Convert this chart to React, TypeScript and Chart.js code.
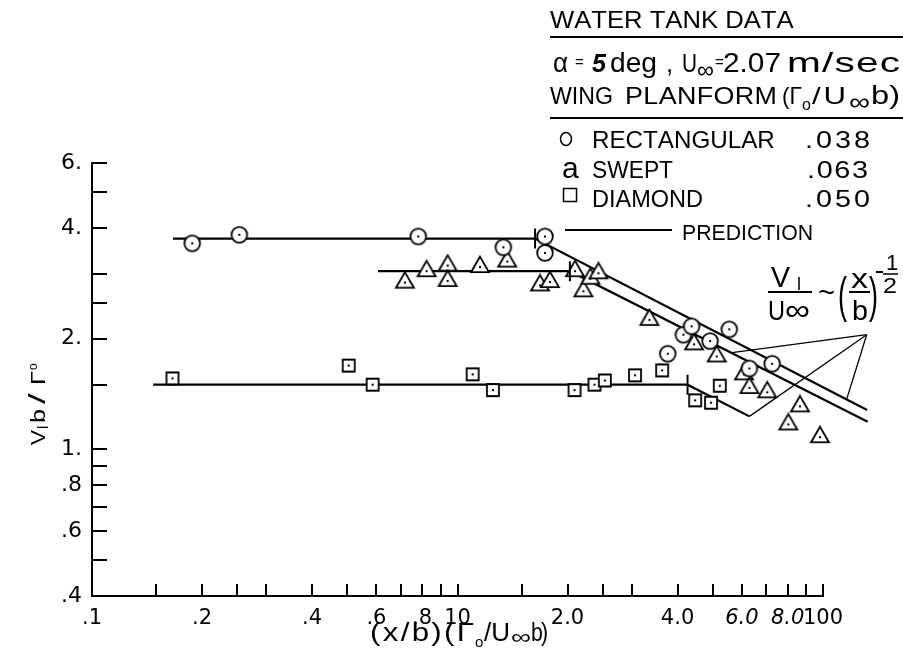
import React, { useEffect, useRef } from "react";
import { Chart, registerables } from "chart.js";

Chart.register(...registerables);

const INK = "#000";
const FONT = "'Liberation Sans', Arial, sans-serif";
const TICK_FONT = "'DejaVu Sans', sans-serif";

// ---- data ----
const rectangularX = [0.188, 0.253, 0.781, 1.335, 1.735, 1.735, 3.76, 4.15, 4.37, 4.91, 5.54, 6.29, 7.26];
const rectangularY = [3.63, 3.83, 3.79, 3.54, 3.79, 3.42, 1.82, 2.05, 2.16, 1.97, 2.12, 1.66, 1.71];

const sweptX = [0.718, 0.823, 0.94, 0.94, 1.152, 1.368, 1.682, 1.79, 2.097, 2.21, 2.31, 2.43, 3.35, 4.44, 5.12, 6.08, 6.29, 7.04, 8.04, 8.65, 9.81];
const sweptY = [2.84, 3.05, 3.16, 2.87, 3.13, 3.24, 2.79, 2.85, 3.05, 2.69, 2.91, 3.01, 2.25, 1.93, 1.79, 1.6, 1.47, 1.43, 1.17, 1.31, 1.08];

const diamondX = [0.166, 0.504, 0.586, 1.1, 1.25, 2.09, 2.37, 2.53, 3.06, 3.63, 4.47, 4.94, 5.22];
const diamondY = [1.56, 1.69, 1.5, 1.6, 1.45, 1.45, 1.5, 1.54, 1.59, 1.64, 1.36, 1.34, 1.49];

const predRectX = [0.1666, 1.63, 13.2];
const predRectY = [3.74, 3.74, 1.28];
const predSweptX = [0.606, 2.03, 13.25];
const predSweptY = [3.05, 3.05, 1.19];
const predDiamondX = [0.147, 4.26, 6.29];
const predDiamondY = [1.5, 1.5, 1.23];

const leaderApexX = 13.17;
const leaderApexY = 2.05;
const leaderEndX = [5.57, 6.29, 11.61];
const leaderEndY = [1.83, 1.23, 1.37];

const xTickValues = [0.1, 0.15, 0.2, 0.25, 0.3, 0.4, 0.5, 0.6, 0.7, 0.8, 0.9, 1, 1.5, 2, 2.5, 3, 4, 5, 6, 7, 8, 9, 10];
const xTickLabels = [".1", "", ".2", "", "", ".4", "", ".6", "", ".8", "", "10", "", "2.0", "", "", "4.0", "", "6.0", "", "8.0", "", "100"];
const yTickValues = [0.4, 0.5, 0.6, 0.7, 0.8, 0.9, 1, 1.5, 2, 2.5, 3, 4, 5, 6];
const yTickLabels = [".4", "", ".6", "", ".8", "", "1.", "", "2.", "", "", "4.", "", "6."];

// ---- helpers ----
function makeMarker(kind: string): HTMLCanvasElement {
  const size = kind === "square" ? 18 : 24;
  const c = document.createElement("canvas");
  c.width = size;
  c.height = size;
  const g = c.getContext("2d")!;
  const m = size / 2;
  g.lineWidth = 1.8;
  g.strokeStyle = INK;
  g.fillStyle = "#fff";
  g.beginPath();
  if (kind === "circle") {
    g.arc(m, m, 7.8, 0, Math.PI * 2);
  } else if (kind === "triangle") {
    const side = 18;
    const h = 15.6;
    g.moveTo(m, m - (2 * h) / 3);
    g.lineTo(m + side / 2, m + h / 3);
    g.lineTo(m - side / 2, m + h / 3);
    g.closePath();
  } else {
    g.rect(m - 6, m - 6, 12, 12);
  }
  g.fill();
  g.stroke();
  g.fillStyle = INK;
  g.fillRect(m - 1, m - 1, 2, 2);
  return c;
}

// draws text starting at x (baseline y); if width is given, the text is fitted
// to it with a horizontal stretch (capped) plus letter spacing
function txt(ctx: any, s: string, x: number, y: number, size: number, width?: number, opts: any = {}) {
  ctx.font = `${opts.style || "normal"} ${opts.weight || "normal"} ${size}px ${opts.family || FONT}`;
  ctx.textAlign = "left";
  ctx.textBaseline = "alphabetic";
  const chars = Array.from(s);
  const w = ctx.measureText(s).width;
  let sx = 1;
  let gap = 0;
  if (width && w > 0) {
    if (chars.length === 1) {
      sx = Math.min(width / w, opts.maxStretch || 1.6);
    } else {
      sx = Math.max(Math.min(width / w, opts.maxStretch || 1.12), 0.85);
      gap = (width - w * sx) / (chars.length - 1);
    }
  }
  let cx = x;
  for (const ch of chars) {
    ctx.save();
    ctx.translate(cx, y);
    ctx.scale(sx, 1);
    ctx.fillText(ch, 0, 0);
    ctx.restore();
    cx += ctx.measureText(ch).width * sx + gap;
  }
}

function hline(ctx: any, x1: number, x2: number, y: number, w: number) {
  ctx.save();
  ctx.lineWidth = w;
  ctx.beginPath();
  ctx.moveTo(x1, y);
  ctx.lineTo(x2, y);
  ctx.stroke();
  ctx.restore();
}

const decorPlugin = {
  id: "decor",
  afterDraw(chart: any) {
    const { ctx, chartArea } = chart;
    const xs = chart.scales.x;
    const ys = chart.scales.y;
    ctx.save();
    ctx.strokeStyle = INK;
    ctx.fillStyle = INK;
    ctx.lineWidth = 2;

    // inward tick marks
    ctx.beginPath();
    xTickValues.slice(1).forEach((v) => {
      const p = Math.round(xs.getPixelForValue(v));
      ctx.moveTo(p, chartArea.bottom);
      ctx.lineTo(p, chartArea.bottom - 12);
    });
    yTickValues.slice(1).forEach((v) => {
      const p = Math.round(ys.getPixelForValue(v));
      ctx.moveTo(chartArea.left, p);
      ctx.lineTo(chartArea.left + 15, p);
    });
    ctx.stroke();

    // kink bars on prediction lines
    const kinks = [
      [predRectX[1], predRectY[1]],
      [predSweptX[1], predSweptY[1]],
      [predDiamondX[1], predDiamondY[1]],
    ];
    ctx.beginPath();
    kinks.forEach(([kx, ky]) => {
      const px = xs.getPixelForValue(kx);
      const py = ys.getPixelForValue(ky);
      ctx.moveTo(px, py - 10);
      ctx.lineTo(px, py + 10);
    });
    ctx.stroke();

    // y axis title (rotated)
    ctx.save();
    ctx.translate(45, 445);
    ctx.rotate(-Math.PI / 2);
    txt(ctx, "V", 0, 0, 21, 15);
    txt(ctx, "l", 16, 3, 15);
    txt(ctx, "b", 22, 0, 21, 14);
    txt(ctx, "/", 41, 0, 24, 12);
    txt(ctx, "Γ", 60, 0, 21, 14);
    txt(ctx, "o", 75, -8, 12);
    ctx.restore();

    // x axis title
    txt(ctx, "(x/b)(Γ", 370, 641, 25, 104, { maxStretch: 1.25 });
    txt(ctx, "o", 475, 647, 15);
    txt(ctx, "/U", 484, 641, 25, 26);
    txt(ctx, "∞", 511, 644, 21, 20);
    txt(ctx, "b)", 531, 641, 25, 17);

    // legend block
    txt(ctx, "WATER TANK DATA", 550, 28, 24, 235);
    hline(ctx, 550, 903, 37, 2);
    txt(ctx, "α", 553, 72, 28, 15);
    txt(ctx, "=", 575, 67, 15);
    txt(ctx, "5", 592, 72, 25, 14, { weight: "bold", style: "italic" });
    txt(ctx, "deg", 610, 72, 27, 47);
    txt(ctx, ",", 666, 72, 26);
    txt(ctx, "U", 682, 72, 25, 15);
    txt(ctx, "∞", 697, 78, 24, 17);
    txt(ctx, "=", 715, 67, 15);
    txt(ctx, "2.07", 723, 72, 27, 58);
    txt(ctx, "m/sec", 787, 72, 28, 113, { maxStretch: 1.45 });
    txt(ctx, "WING", 550, 104, 24, 63);
    txt(ctx, "PLANFORM", 625, 104, 24, 152);
    txt(ctx, "(Γ", 782, 104, 24, 20);
    txt(ctx, "o", 802, 110, 16);
    txt(ctx, "/U", 812, 104, 24, 34, { maxStretch: 1.3 });
    txt(ctx, "∞", 849, 110, 24, 21);
    txt(ctx, "b)", 871, 104, 26, 29, { maxStretch: 1.3 });
    hline(ctx, 550, 903, 118, 2);

    ctx.lineWidth = 1.5;
    ctx.beginPath();
    ctx.ellipse(566, 139, 5.5, 6.5, 0, 0, Math.PI * 2);
    ctx.stroke();
    txt(ctx, "RECTANGULAR", 592, 148, 24, 181);
    txt(ctx, ".038", 805, 148, 24, 65, { maxStretch: 1.2 });
    txt(ctx, "a", 562, 178, 30);
    txt(ctx, "SWEPT", 592, 178, 24, 81);
    txt(ctx, ".063", 807, 178, 24, 61, { maxStretch: 1.2 });
    ctx.strokeRect(563.5, 188.5, 13, 13);
    txt(ctx, "DIAMOND", 592, 207, 24, 111);
    txt(ctx, ".050", 805, 207, 24, 65, { maxStretch: 1.2 });
    hline(ctx, 565, 672, 230, 2);
    txt(ctx, "PREDICTION", 682, 240, 22, 131);

    // formula annotation
    txt(ctx, "V", 771, 287, 29, 19);
    txt(ctx, "l", 797, 290, 18);
    hline(ctx, 768, 812, 292, 2);
    txt(ctx, "U", 768, 320, 27, 17);
    txt(ctx, "∞", 785, 320, 30, 25);
    txt(ctx, "~", 818, 302, 28, 17);
    txt(ctx, "(", 838, 312, 50, 9);
    txt(ctx, "x", 851, 288, 28, 17);
    hline(ctx, 849, 870, 292, 2);
    txt(ctx, "b", 852, 320, 28, 16);
    txt(ctx, ")", 869, 312, 50, 9);
    hline(ctx, 876, 883, 272, 2);
    txt(ctx, "1", 886, 270, 22);
    hline(ctx, 883, 898, 274, 1.5);
    txt(ctx, "2", 883, 293, 22, 14);

    ctx.restore();
  },
};

const pts = (xs: number[], ys: number[]) => xs.map((x, i) => ({ x, y: ys[i] }));

export default function App() {
  const ref = useRef<HTMLCanvasElement>(null);

  useEffect(() => {
    const canvas = ref.current!;
    const circle = makeMarker("circle");
    const triangle = makeMarker("triangle");
    const square = makeMarker("square");

    const markerDs = (label: string, xs: number[], ys: number[], img: any) => ({
      label,
      data: pts(xs, ys),
      pointStyle: img,
      pointRadius: 8,
      pointHoverRadius: 8,
      showLine: false,
      clip: false,
    });
    const lineDs = (label: string, xs: number[], ys: number[], w: number) => ({
      label,
      data: pts(xs, ys),
      showLine: true,
      borderColor: INK,
      borderWidth: w,
      pointRadius: 0,
      pointHoverRadius: 0,
      tension: 0,
      fill: false,
      clip: false,
    });

    const leaders = leaderEndX.map((x, i) =>
      lineDs("leader" + i, [x, leaderApexX], [leaderEndY[i], leaderApexY], 1.3)
    );

    const chart = new Chart(canvas, {
      type: "scatter",
      data: {
        datasets: [
          markerDs("RECTANGULAR", rectangularX, rectangularY, circle),
          markerDs("SWEPT", sweptX, sweptY, triangle),
          markerDs("DIAMOND", diamondX, diamondY, square),
          lineDs("PREDICTION rect", predRectX, predRectY, 2.2),
          lineDs("PREDICTION swept", predSweptX, predSweptY, 2.2),
          lineDs("PREDICTION diamond", predDiamondX, predDiamondY, 2.2),
          ...leaders,
        ] as any,
      },
      options: {
        responsive: false,
        animation: false,
        devicePixelRatio: 1,
        events: [],
        layout: { padding: { left: 0, right: 80, top: 163, bottom: 0 } },
        plugins: { legend: { display: false }, tooltip: { enabled: false } },
        scales: {
          x: {
            type: "logarithmic",
            min: 0.1,
            max: 10,
            afterBuildTicks: (s: any) => {
              s.ticks = xTickValues.map((v) => ({ value: v }));
            },
            afterFit: (s: any) => {
              s.height = 73;
            },
            grid: { display: false, drawTicks: false },
            border: { display: true, color: INK, width: 2 },
            ticks: {
              autoSkip: false,
              maxRotation: 0,
              minRotation: 0,
              padding: 10,
              color: INK,
              font: (c: any) => ({
                family: TICK_FONT,
                size: 21,
                style: c.tick && (c.tick.value === 6 || c.tick.value === 8) ? "italic" : "normal",
              }),
              callback: (_v: any, i: number) => xTickLabels[i],
            },
          },
          y: {
            type: "logarithmic",
            min: 0.4,
            max: 6,
            afterBuildTicks: (s: any) => {
              s.ticks = yTickValues.map((v) => ({ value: v }));
            },
            afterFit: (s: any) => {
              s.width = 92;
            },
            grid: { display: false, drawTicks: false },
            border: { display: true, color: INK, width: 2 },
            ticks: {
              autoSkip: false,
              padding: 10,
              color: INK,
              font: { family: TICK_FONT, size: 22 },
              callback: (_v: any, i: number) => yTickLabels[i],
            },
          },
        },
      } as any,
      plugins: [decorPlugin],
    });
    return () => chart.destroy();
  }, []);

  return (
    <div style={{ position: "absolute", left: 0, top: 0, width: 903, height: 669, background: "#fff" }}>
      <canvas ref={ref} width={903} height={669} style={{ display: "block" }} />
    </div>
  );
}
